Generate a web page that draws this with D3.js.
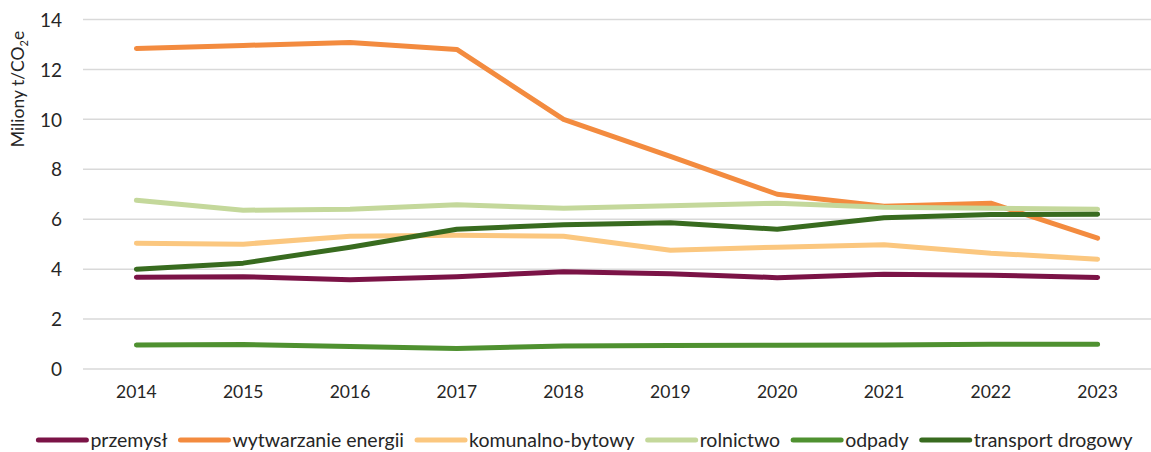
<!DOCTYPE html>
<html>
<head>
<meta charset="utf-8">
<script src="https://cdn.jsdelivr.net/npm/d3@7"></script>
<style>
  body { margin: 0; background: #fff; }
  text { font-family: Lato, "Open Sans", sans-serif; fill: #262626; }
</style>
</head>
<body>
<div id="chart"></div>
<script>
// Emisje wg sektorów, mln t CO2e
const years = ['2014', '2015', '2016', '2017', '2018', '2019', '2020', '2021', '2022', '2023'];
const yTicks = [0, 2, 4, 6, 8, 10, 12, 14];

const przemysl = [3.68, 3.70, 3.58, 3.70, 3.90, 3.82, 3.66, 3.80, 3.76, 3.67];
const wytwarzanieEnergii = [12.84, 12.96, 13.08, 12.80, 10.0, 8.52, 7.0, 6.52, 6.64, 5.24];
const komunalnoBytowy = [5.04, 5.0, 5.32, 5.36, 5.32, 4.76, 4.88, 4.98, 4.64, 4.40];
const rolnictwo = [6.76, 6.36, 6.40, 6.58, 6.44, 6.54, 6.64, 6.48, 6.44, 6.40];
const odpady = [0.96, 0.98, 0.90, 0.82, 0.92, 0.94, 0.95, 0.96, 0.99, 0.99];
const transportDrogowy = [4.0, 4.24, 4.88, 5.60, 5.78, 5.86, 5.60, 6.06, 6.19, 6.20];

const seriesNames = ['przemysł', 'wytwarzanie energii', 'komunalno-bytowy', 'rolnictwo', 'odpady', 'transport drogowy'];
const seriesColors = ['#7b1346', '#f38b3f', '#fbc77f', '#c4d89b', '#4f9130', '#386b1f'];
const seriesValues = [przemysl, wytwarzanieEnergii, komunalnoBytowy, rolnictwo, odpady, transportDrogowy];

const width = 1151;
const height = 452;
const margin = { top: 19.5, right: 0, bottom: 83, left: 83 };

const svg = d3.select('#chart')
  .append('svg')
  .attr('width', width)
  .attr('height', height);

const x = d3.scaleBand()
  .domain(years)
  .range([margin.left, width - margin.right]);

const y = d3.scaleLinear()
  .domain([0, 14])
  .range([height - margin.bottom, margin.top]);

// gridlines
svg.append('g')
  .selectAll('line')
  .data(yTicks)
  .join('line')
  .attr('x1', margin.left)
  .attr('x2', width - margin.right)
  .attr('y1', d => y(d))
  .attr('y2', d => y(d))
  .attr('stroke', '#d9d9d9')
  .attr('stroke-width', 1.5);

// y axis labels
const yAxis = svg.append('g')
  .attr('transform', `translate(${margin.left - 21},0)`)
  .call(d3.axisLeft(y).tickValues(yTicks).tickSize(0).tickPadding(0));
yAxis.select('.domain').remove();
yAxis.selectAll('text')
  .attr('font-size', 19)
  .attr('dy', '0.35em')
  .style('font-family', 'Lato, sans-serif')
  .attr('fill', '#262626');

// x axis labels
const xAxis = svg.append('g')
  .attr('transform', `translate(0,${height - margin.bottom})`)
  .call(d3.axisBottom(x).tickSize(0).tickPadding(17));
xAxis.select('.domain').remove();
xAxis.selectAll('text')
  .attr('font-size', 17.5)
  .style('font-family', 'Lato, sans-serif')
  .attr('fill', '#262626');

// y title
const title = svg.append('text')
  .attr('transform', 'translate(24,89) rotate(-90)')
  .attr('text-anchor', 'middle')
  .attr('font-size', 17.5);
title.append('tspan').text('Miliony t/CO');
title.append('tspan').attr('font-size', 11).attr('dy', 4).text('2');
title.append('tspan').attr('dy', -4).text('e');

// lines
const line = d3.line()
  .x((d, i) => x(years[i]) + x.bandwidth() / 2)
  .y(d => y(d));

svg.append('g')
  .selectAll('path')
  .data(seriesValues)
  .join('path')
  .attr('d', d => line(d))
  .attr('fill', 'none')
  .attr('stroke', (d, i) => seriesColors[i])
  .attr('stroke-width', 5)
  .attr('stroke-linejoin', 'round')
  .attr('stroke-linecap', 'round');

// legend
const legend = svg.append('g');
const swatch = 51;
let cursor = 0;
seriesNames.forEach((name, i) => {
  const item = legend.append('g').attr('transform', `translate(${cursor},0)`);
  item.append('line')
    .attr('x1', 3).attr('x2', swatch)
    .attr('y1', 0).attr('y2', 0)
    .attr('stroke', seriesColors[i])
    .attr('stroke-width', 5)
    .attr('stroke-linecap', 'round');
  const t = item.append('text')
    .attr('x', swatch + 4)
    .attr('dy', '0.35em')
    .attr('font-size', 19.5)
    .text(name);
  cursor += swatch + 4 + t.node().getComputedTextLength() + 10;
});
legend.attr('transform', `translate(${584 - (cursor - 10) / 2},440)`);
</script>
</body>
</html>
